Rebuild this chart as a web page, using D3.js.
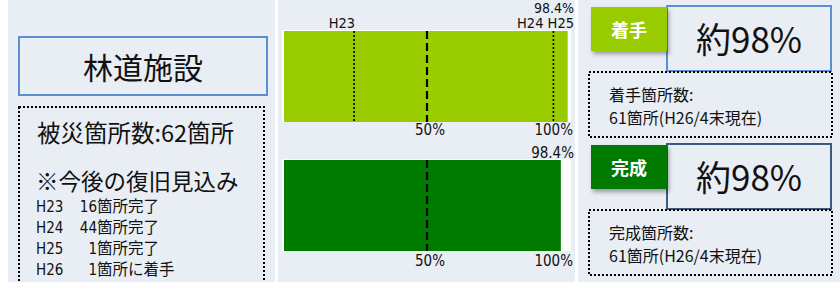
<!DOCTYPE html>
<html>
<head>
<meta charset="utf-8">
<script src="https://cdn.jsdelivr.net/npm/d3@7.9.0/dist/d3.min.js"></script>
<style>
  body { margin: 0; background: #fff; }
  svg { display: block; }
  text { font-family: "Noto Sans CJK JP", sans-serif; fill: #111; }
  .num { font-family: "DejaVu Sans Condensed", "DejaVu Sans", sans-serif; }
  .narrow { font-family: "Liberation Sans Narrow", "DejaVu Sans Condensed", "Noto Sans CJK JP", sans-serif; }
</style>
</head>
<body>
<svg id="chart" width="840" height="282"></svg>
<script>
// bars (middle panel)
const bars = ['着手', '完成'];
const barValues = [99.2, 96.8];
const barLabels = ['98.4%', '98.4%'];
const markerLabels = ['H23', 'H24 H25'];
const markerValues = [24.5, 94.2];
const tickValues = [50, 100];
const tickLabels = ['50%', '100%'];

// left panel
const title = '林道施設';
const damageText = '被災箇所数:62箇所';
const outlookTitle = '※今後の復旧見込み';
const outlookYears = ['H23', 'H24', 'H25', 'H26'];
const outlookCounts = [16, 44, 1, 1];
const outlookStatus = ['箇所完了', '箇所完了', '箇所完了', '箇所に着手'];

// right panel
const badges = ['着手', '完成'];
const badgeValues = ['約98%', '約98%'];
const noteHeads = ['着手箇所数:', '完成箇所数:'];
const noteLines = ['61箇所(H26/4末現在)', '61箇所(H26/4末現在)'];

const barColors = ['#99cc00', '#007a00'];
const boxStroke = ['#5b8ed2', '#3b5a80'];
const bg = '#e9edf4';

let svg = d3.select('#chart');

let defs = svg.append('defs');
let f = defs.append('filter').attr('id', 'shadow').attr('x', '-20%').attr('y', '-20%').attr('width', '150%').attr('height', '160%');
f.append('feDropShadow').attr('dx', 2).attr('dy', 3).attr('stdDeviation', 2).attr('flood-opacity', 0.35);

// background panels
svg.append('rect').attr('width', 840).attr('height', 282).attr('fill', bg);
[[0, 8], [275, 3], [575, 3]].forEach(([x, w]) => {
  svg.append('rect').attr('x', x).attr('y', 0).attr('width', w).attr('height', 282).attr('fill', '#fff');
});

// ---- left panel
svg.append('rect').attr('x', 19).attr('y', 37).attr('width', 248).attr('height', 58)
  .attr('fill', bg).attr('stroke', '#5b8ed2').attr('stroke-width', 2);
svg.append('text').attr('x', 143).attr('y', 79).attr('text-anchor', 'middle')
  .attr('font-size', 30).text(title);

svg.append('rect').attr('x', 19).attr('y', 107).attr('width', 245).attr('height', 200)
  .attr('fill', 'none').attr('stroke', '#000').attr('stroke-width', 2).attr('stroke-dasharray', '2 2');
svg.append('text').attr('x', 37).attr('y', 142).attr('font-size', 23.5).text(damageText);
svg.append('text').attr('x', 36).attr('y', 190).attr('font-size', 22.5).text(outlookTitle);

outlookYears.forEach((yr, i) => {
  let y = 212 + i * 21;
  svg.append('text').attr('class', 'narrow').attr('x', 36).attr('y', y).attr('font-size', 15).text(yr);
  svg.append('text').attr('class', 'narrow').attr('x', 97).attr('y', y).attr('font-size', 15)
    .attr('text-anchor', 'end').text(outlookCounts[i]);
  svg.append('text').attr('x', 97).attr('y', y).attr('font-size', 15.5).text(outlookStatus[i]);
});

// ---- middle panel (bars)
let x = d3.scaleLinear().domain([0, 100]).range([284, 570]);
let y = d3.scaleBand().domain(bars).range([31, 251]).paddingInner(0.2946).paddingOuter(0);

bars.forEach((b, i) => {
  let y0 = y(b), h = y.bandwidth();
  svg.append('rect').attr('x', x(0) - 2).attr('y', y0 - 1).attr('width', x(100) - x(0) + 3).attr('height', h + 1).attr('fill', '#fff');
  svg.append('rect').attr('x', x(0)).attr('y', y0).attr('width', x(barValues[i]) - x(0)).attr('height', h).attr('fill', barColors[i]);

  // 50% dashed line
  svg.append('line').attr('x1', x(50)).attr('x2', x(50)).attr('y1', y0).attr('y2', y0 + h)
    .attr('stroke', '#000').attr('stroke-width', 2.2).attr('stroke-dasharray', '8 4');

  // tick labels
  tickValues.forEach((t, j) => {
    svg.append('text').attr('class', 'num')
      .attr('x', x(t) + 3)
      .attr('y', y0 + h + (i === 0 ? 13 : 15))
      .attr('text-anchor', j === 0 ? 'middle' : 'end')
      .attr('font-size', 15).text(tickLabels[j]);
  });

  // value label
  svg.append('text').attr('class', 'num').attr('x', 574).attr('y', y0 - (i === 0 ? 18 : 2))
    .attr('text-anchor', 'end').attr('font-size', i === 0 ? 14 : 15).text(barLabels[i]);
});

// year markers on first bar
markerValues.forEach((v, i) => {
  let y0 = y(bars[0]);
  svg.append('line').attr('x1', x(v)).attr('x2', x(v)).attr('y1', y0).attr('y2', y0 + y.bandwidth())
    .attr('stroke', '#000').attr('stroke-width', 1.6).attr('stroke-dasharray', '2 2');
  svg.append('text').attr('class', 'num').attr('x', i === 0 ? x(v) + 1 : 574).attr('y', y0 - 3)
    .attr('text-anchor', 'end').attr('font-size', 14.5).text(markerLabels[i]);
});

// ---- right panel
badges.forEach((b, i) => {
  let top = i === 0 ? 6 : 144;
  svg.append('rect').attr('x', 667).attr('y', top).attr('width', 164).attr('height', 65)
    .attr('fill', bg).attr('stroke', boxStroke[i]).attr('stroke-width', 2);
  svg.append('rect').attr('x', 591).attr('y', top + 1).attr('width', 76).attr('height', 44)
    .attr('fill', barColors[i]).attr('filter', 'url(#shadow)');
  svg.append('text').attr('x', 629).attr('y', top + 31).attr('text-anchor', 'middle')
    .attr('font-size', 18).attr('font-weight', 'bold').style('fill', '#fff').text(b);
  svg.append('text').attr('x', 749).attr('y', top + 47).attr('text-anchor', 'middle')
    .attr('font-size', 35).text(badgeValues[i]);

  let nt = top + 66;
  svg.append('rect').attr('x', 589).attr('y', nt).attr('width', 243).attr('height', 65)
    .attr('fill', 'none').attr('stroke', '#000').attr('stroke-width', 2).attr('stroke-dasharray', '2 2');
  svg.append('text').attr('x', 609).attr('y', nt + 29).attr('font-size', 16).text(noteHeads[i]);
  svg.append('text').attr('x', 609).attr('y', nt + 52).attr('font-size', 16).text(noteLines[i]);
});
</script>
</body>
</html>
